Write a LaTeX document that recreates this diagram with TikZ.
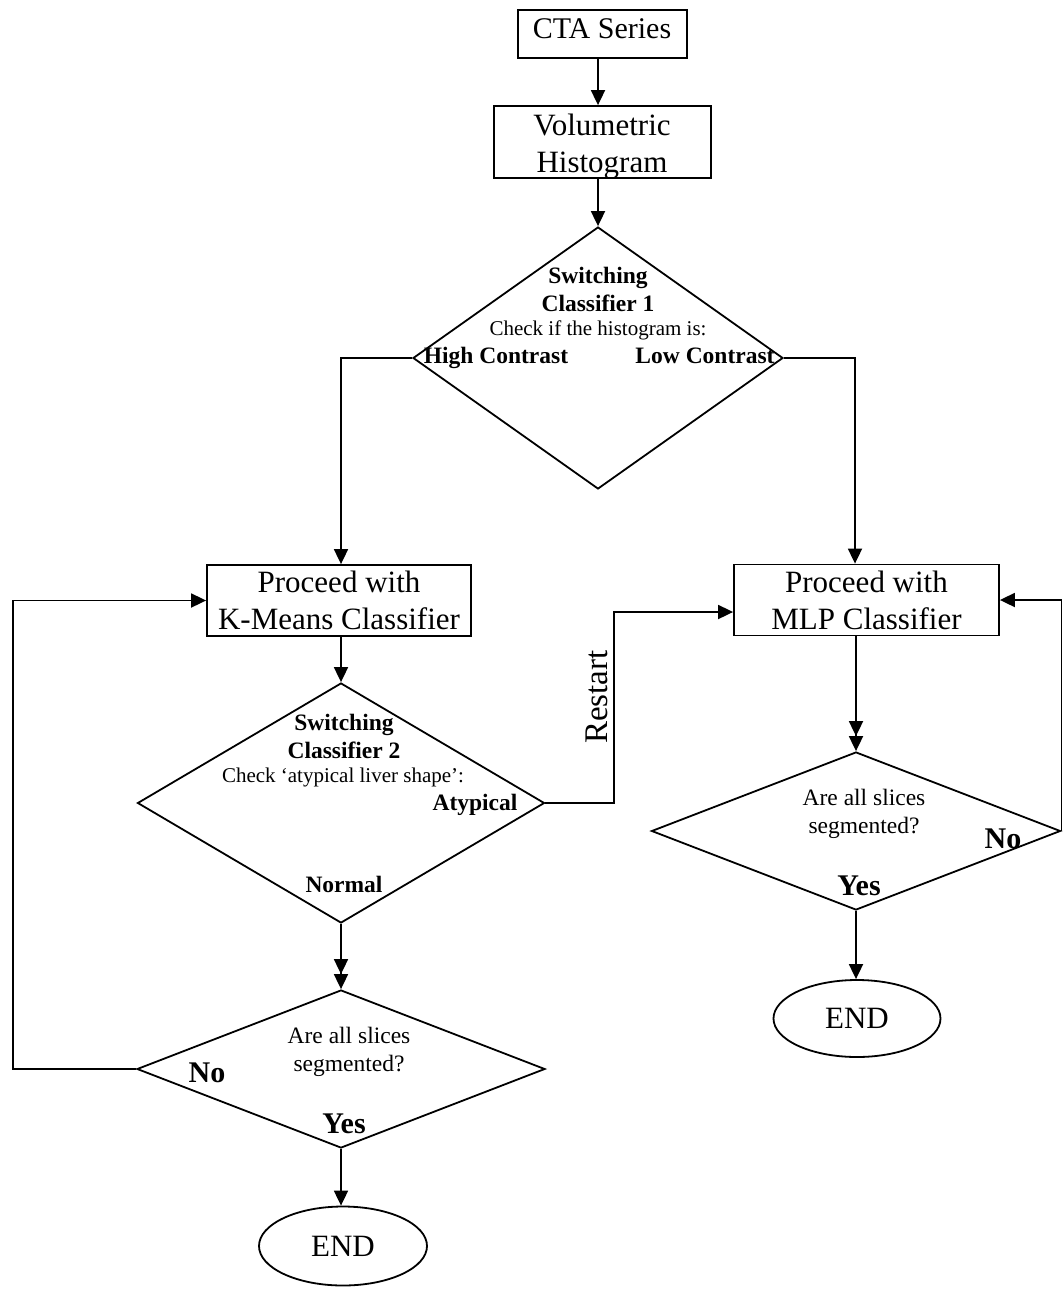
\documentclass[tikz,border=0pt]{standalone}
\usepackage{fontspec}
\setmainfont{Liberation Serif}
\usetikzlibrary{shapes.geometric,arrows.meta}

\begin{document}
\begin{tikzpicture}[x=1pt,y=-1pt,
  line width=1.8pt,
  big/.style={font=\fontsize{31}{37}\selectfont},
  stepbox/.style={draw,rectangle,inner sep=0pt,align=center,big},
  decision/.style={draw,diamond,inner sep=0pt,minimum width=#1},
  terminal/.style={draw,ellipse,inner sep=0pt,minimum width=168pt,minimum height=79pt,big},
  lbl/.style={inner sep=0pt,align=center,anchor=base},
  boldlbl/.style={lbl,font=\fontsize{23.5}{28}\selectfont\bfseries},
  smalllbl/.style={lbl,font=\fontsize{21}{25}\selectfont},
  qlbl/.style={lbl,font=\fontsize{23.5}{27.5}\selectfont},
  ynlbl/.style={lbl,font=\fontsize{30}{34}\selectfont\bfseries},
  tip/.style={-{Triangle[length=15pt,width=14pt]}},
  dtip/.style={-{Triangle[length=15pt,width=14pt,sep=0pt]Triangle[length=15pt,width=14pt]}}
]
\useasboundingbox (0,0) rectangle (1064,1291);

% process boxes (multi-line labels sit on the baseline of their last line)
\node[stepbox,minimum width=169pt,minimum height=48pt] (cta) at (602.5,34) {};
\node[lbl,font=\fontsize{30}{36}\selectfont] (ctatxt) at (602,38) {CTA Series};
\node[stepbox,minimum width=217pt,minimum height=72pt] (vol) at (602.5,142) {};
\node[lbl,big] (voltxt) at (602,172) {Volumetric\\Histogram};
\node[stepbox,minimum width=264pt,minimum height=71pt] (km) at (339,600.5) {Proceed with\\K-Means Classifier};
\node[stepbox,minimum width=265pt,minimum height=71pt] (mlp) at (866.5,600) {Proceed with\\MLP Classifier};

% decisions
\node[decision=370pt,minimum height=262pt] (d1) at (598,358) {};
\node[decision=407pt,minimum height=240pt] (d2) at (341,803) {};
\node[decision=408pt,minimum height=158pt] (d3) at (341,1069) {};
\node[decision=409pt,minimum height=158pt] (d4) at (856,831) {};

% terminals
\node[terminal] (end1) at (343,1246) {END};
\node[terminal,minimum width=167pt,minimum height=77pt] (end2) at (857,1018.5) {END};

% decision texts
\node[boldlbl] (s1a) at (598,283) {Switching};
\node[boldlbl] (s1b) at (598,311) {Classifier 1};
\node[smalllbl] (s1c) at (598,335) {Check if the histogram is:};
\node[boldlbl] (hc) at (496,363) {High Contrast};
\node[boldlbl] (lc) at (705,363) {Low Contrast};

\node[boldlbl] (s2a) at (344,730) {Switching};
\node[boldlbl] (s2b) at (344,758) {Classifier 2};
\node[smalllbl] (s2c) at (343,782) {Check ‘atypical liver shape’:};
\node[boldlbl] (aty) at (475,810) {Atypical};
\node[boldlbl] (nor) at (344,892) {Normal};

\node[qlbl] (q3) at (349,1071) {Are all slices\\segmented?};
\node[ynlbl] (no3) at (207,1082) {No};
\node[ynlbl] (yes3) at (344,1133) {Yes};

\node[qlbl] (q4) at (864,833) {Are all slices\\segmented?};
\node[ynlbl] (no4) at (1003,848) {No};
\node[ynlbl] (yes4) at (859,895) {Yes};

\node[lbl,font=\fontsize{33}{37}\selectfont,rotate=90] (rst) at (607,697) {Restart};

% bends
\coordinate (rbend) at (614,803);
\coordinate (lbend) at (13,1069);
\coordinate (hbend) at (341,358);
\coordinate (lbend2) at (855,358);

% connectors
\draw[tip] (cta.south -| d1.north) -- (vol.north -| d1.north);
\draw[tip] (vol.south -| d1.north) -- (d1.north);
\draw[tip] (d1.west) -- (hbend) -- (hbend |- km.north);
\draw[tip] (d1.east) -- (lbend2) -- (lbend2 |- mlp.north);
\draw[tip] (km.south -| d2.north) -- (d2.north);
\draw[tip] (d2.east) -- (rbend) |- ([yshift=-12pt]mlp.west);
\draw[dtip] (d2.south) -- (d3.north);
\draw[tip] (d3.west) -- (lbend) |- (km.west);
\draw[tip] (d3.south) -- (d3.south |- end1.north);
\draw[dtip] (mlp.south -| d4.north) -- (d4.north);
\draw[tip] (d4.east) |- (mlp.east);
\draw[tip] (d4.south) -- (d4.south |- end2.north);
\end{tikzpicture}
\end{document}
